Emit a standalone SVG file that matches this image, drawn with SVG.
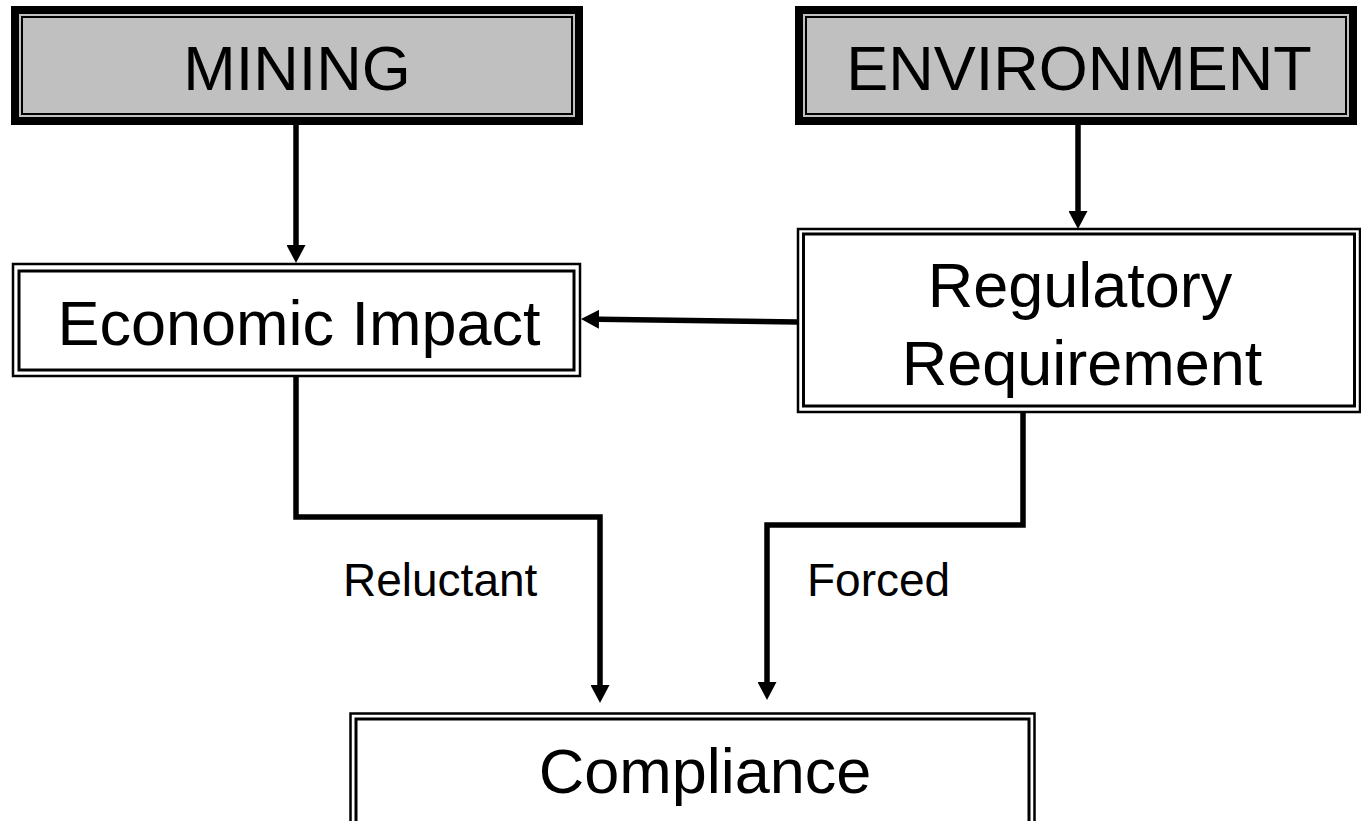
<svg xmlns="http://www.w3.org/2000/svg" width="1361" height="821" viewBox="0 0 1361 821">
<defs>
<style>
.txt{font-family:"Liberation Sans",Arial,sans-serif;fill:#000;text-anchor:middle}
.big{font-size:63px}
.lbl{font-size:46px;text-anchor:start}
.head-outer{fill:#c0c0c0;stroke:#000;stroke-width:8}
.head-inner{fill:none;stroke:#000;stroke-width:2}
.box-outer{fill:#fff;stroke:#000;stroke-width:2.5}
.box-inner{fill:none;stroke:#000;stroke-width:3}
.conn{fill:none;stroke:#000;stroke-width:5.5;stroke-linejoin:miter}
</style>
<marker id="arr" markerUnits="userSpaceOnUse" markerWidth="19" markerHeight="19" refX="0" refY="9.5" orient="auto" viewBox="0 0 19 19">
<path d="M0,0 L18,9.5 L0,19 z" fill="#000"/>
</marker>
</defs>
<rect width="1361" height="821" fill="#fff"/>
<g id="mining">
<rect class="head-outer" x="15" y="10" width="564" height="111"/>
<rect class="head-inner" x="22" y="17" width="550" height="97"/>
<text class="txt big" x="297" y="90">MINING</text>
</g>
<g id="environment">
<rect class="head-outer" x="799" y="10" width="554" height="111"/>
<rect class="head-inner" x="806" y="17" width="540" height="97"/>
<text class="txt big" x="1079" y="90">ENVIRONMENT</text>
</g>
<g id="economic-impact">
<rect class="box-outer" x="13" y="264" width="567" height="112"/>
<rect class="box-inner" x="19" y="271" width="555" height="99"/>
<text class="txt big" x="299" y="345">Economic Impact</text>
</g>
<g id="regulatory-requirement">
<rect class="box-outer" x="798" y="229" width="562" height="183"/>
<rect class="box-inner" x="803.5" y="234" width="551" height="172"/>
<text class="txt big" x="1080" y="307">Regulatory</text>
<text class="txt big" x="1082" y="385">Requirement</text>
</g>
<g id="compliance">
<rect class="box-outer" x="350.5" y="713.5" width="684" height="130"/>
<rect class="box-inner" x="356" y="719" width="673" height="130"/>
<text class="txt big" x="705" y="793">Compliance</text>
</g>
<g id="connectors">
<path class="conn" d="M296,125 V245" marker-end="url(#arr)"/>
<path class="conn" d="M1078,125 V211" marker-end="url(#arr)"/>
<path class="conn" d="M798,322 L599,319.3" marker-end="url(#arr)"/>
<path class="conn" d="M296,377 V517 H600 V685" marker-end="url(#arr)"/>
<path class="conn" d="M1023,412 V525 H767 V682" marker-end="url(#arr)"/>
<text class="txt lbl" x="343" y="596">Reluctant</text>
<text class="txt lbl" x="807" y="596">Forced</text>
</g>
</svg>
